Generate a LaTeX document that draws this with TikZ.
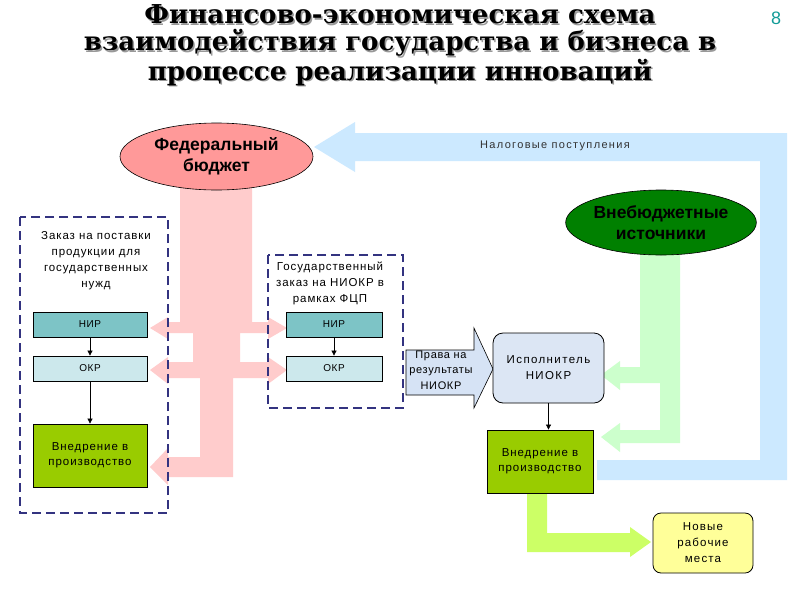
\documentclass[tikz,border=0pt]{standalone}
\usepackage{fontspec}
\setmainfont{Liberation Sans}
\newfontfamily\titlefont{DejaVu Serif}
\usetikzlibrary{arrows.meta,shapes.geometric}

\definecolor{pinkarrow}{HTML}{FFCCCC}
\definecolor{fedfill}{HTML}{FF9999}
\definecolor{bluearrow}{HTML}{CCE9FF}
\definecolor{greenarrow}{HTML}{CCFFCC}
\definecolor{limearrow}{HTML}{CCFF66}
\definecolor{nirfill}{HTML}{7DC4C6}
\definecolor{okrfill}{HTML}{CCE8EC}
\definecolor{vnedfill}{HTML}{99CC00}
\definecolor{darkgreen}{HTML}{008000}
\definecolor{framecol}{HTML}{333380}
\definecolor{yellowfill}{HTML}{FFFF99}
\definecolor{ispfill}{HTML}{DCE6F4}
\definecolor{pravafill}{HTML}{D6E3F5}
\definecolor{pagenum}{HTML}{139C98}
\definecolor{taxtext}{HTML}{333333}

\newcommand{\titleline}[1]{\makebox[0pt][l]{\hspace{1.5pt}\raisebox{-1.5pt}{\textcolor{black!40}{#1}}}#1}

\tikzset{
  box/.style={draw=black, line width=0.8pt, inner sep=0pt, align=center,
    font=\fontsize{10}{13}\selectfont\addfontfeatures{LetterSpace=6}},
  bigbox/.style={box, font=\fontsize{11.5}{15}\selectfont\addfontfeatures{LetterSpace=8}},
  frame/.style={draw=framecol, line width=1.8pt, dash pattern=on 9pt off 5pt},
  conn/.style={draw=black, line width=0.7pt, -{Triangle[length=5pt,width=5pt]}},
  oval/.style={ellipse, draw=black, line width=0.6pt, inner sep=0pt, align=center,
    font=\fontsize{17.5}{21}\selectfont\bfseries},
  plain/.style={inner sep=0pt, align=center,
    font=\fontsize{11.5}{16}\selectfont\addfontfeatures{LetterSpace=8}}
}

\begin{document}
\begin{tikzpicture}[x=1pt,y=-1pt]
\useasboundingbox[fill=white] (0,0) rectangle (800,600);

% title
\node[inner sep=0pt, align=center, font=\titlefont\fontsize{26}{27}\selectfont\bfseries] (title) at (400,46)
 {\titleline{Финансово-экономическая схема}\\\titleline{взаимодействия государства и бизнеса в}\\\titleline{процессе реализации инноваций}};
\node[inner sep=0pt, text=pagenum, font=\fontsize{18}{18}\selectfont] (pnum) at (776,18) {8};

% blue tax arrow
\fill[bluearrow] (314,147) -- (355,122) -- (355,133) -- (787,133) -- (787,480) -- (597,480)
  -- (597,460) -- (760,460) -- (760,161) -- (355,161) -- (355,172) -- cycle;
\node[plain, text=taxtext, font=\fontsize{11}{13}\selectfont\addfontfeatures{LetterSpace=12}] (tax) at (555,146) {Налоговые поступления};

% pink federal arrows
\fill[pinkarrow] (180,180) -- (252,180) -- (252,322) -- (268,322) -- (268,317) -- (287,328)
  -- (268,339) -- (268,333) -- (240,333) -- (240,362) -- (268,362) -- (268,357) -- (287,370)
  -- (268,384) -- (268,378) -- (233,378) -- (233,477) -- (168,477) -- (168,485) -- (150,467)
  -- (168,448) -- (168,457) -- (200,457) -- (200,378) -- (168,378) -- (168,384) -- (150,370)
  -- (168,357) -- (168,362) -- (193,362) -- (193,333) -- (168,333) -- (168,339) -- (150,328)
  -- (168,317) -- (168,322) -- (180,322) -- cycle;

% green off-budget arrows
\fill[greenarrow] (640,250) -- (680,250) -- (680,443) -- (620,443) -- (620,452) -- (601,437)
  -- (620,423) -- (620,430) -- (660,430) -- (660,383) -- (620,383) -- (620,390) -- (601,375)
  -- (620,361) -- (620,367) -- (640,367) -- cycle;

% lime arrow to new jobs
\fill[limearrow] (527,490) -- (547,490) -- (547,533) -- (630,533) -- (630,527) -- (651,542)
  -- (630,557) -- (630,552) -- (527,552) -- cycle;

% ellipses
\node[oval, fill=fedfill, minimum width=193, minimum height=67] (fed) at (216.5,156.5) {Федеральный\\бюджет};
\node[oval, fill=darkgreen, minimum width=158, minimum height=65] (vneb) at (661,222.5) {Внебюджетные\\источники};

% left frame
\draw[frame] (20,217) rectangle (168,513);
\node[plain] (zakaz) at (96,261) {Заказ на поставки\\продукции для\\государственных\\нужд};
\node[box, fill=nirfill, minimum width=114, minimum height=25] (nir1) at (90,324.5) {НИР};
\node[box, fill=okrfill, minimum width=114, minimum height=25] (okr1) at (90,368.5) {ОКР};
\node[bigbox, fill=vnedfill, minimum width=114, minimum height=63] (vned1) at (90,455.5) {Внедрение в\\производство};
\draw[conn] (nir1) -- (okr1);
\draw[conn] (okr1) -- (vned1);

% middle frame
\draw[frame] (268,255) rectangle (403,408);
\node[plain] (goszakaz) at (330,283.5) {Государственный\\заказ на НИОКР в\\рамках ФЦП};
\node[box, fill=nirfill, minimum width=96, minimum height=25] (nir2) at (334,324.5) {НИР};
\node[box, fill=okrfill, minimum width=96, minimum height=25] (okr2) at (334,368.5) {ОКР};
\draw[conn] (nir2) -- (okr2);

% rights arrow
\draw[draw=black, line width=0.6pt, fill=pravafill] (406,350) -- (474,350) -- (474,328) -- (493,369)
  -- (474,408) -- (474,395) -- (406,395) -- cycle;
\node[plain, font=\fontsize{11}{15.5}\selectfont\addfontfeatures{LetterSpace=6}] (prava) at (441,370) {Права на\\результаты\\НИОКР};

% executor
\node[bigbox, fill=ispfill, rounded corners=10pt, minimum width=111, minimum height=70,
  font=\fontsize{11.5}{16}\selectfont\addfontfeatures{LetterSpace=12}] (isp) at (548.5,368) {Исполнитель\\НИОКР};
\node[bigbox, fill=vnedfill, minimum width=106, minimum height=63] (vned2) at (540,461.5) {Внедрение в\\производство};
\draw[conn] (isp.south) -- (isp.south |- vned2.north);

% new jobs
\node[box, fill=yellowfill, rounded corners=8pt, minimum width=100, minimum height=60,
  font=\fontsize{11.5}{16}\selectfont\addfontfeatures{LetterSpace=10}] (jobs) at (703,543) {Новые\\рабочие\\места};
\end{tikzpicture}
\end{document}
